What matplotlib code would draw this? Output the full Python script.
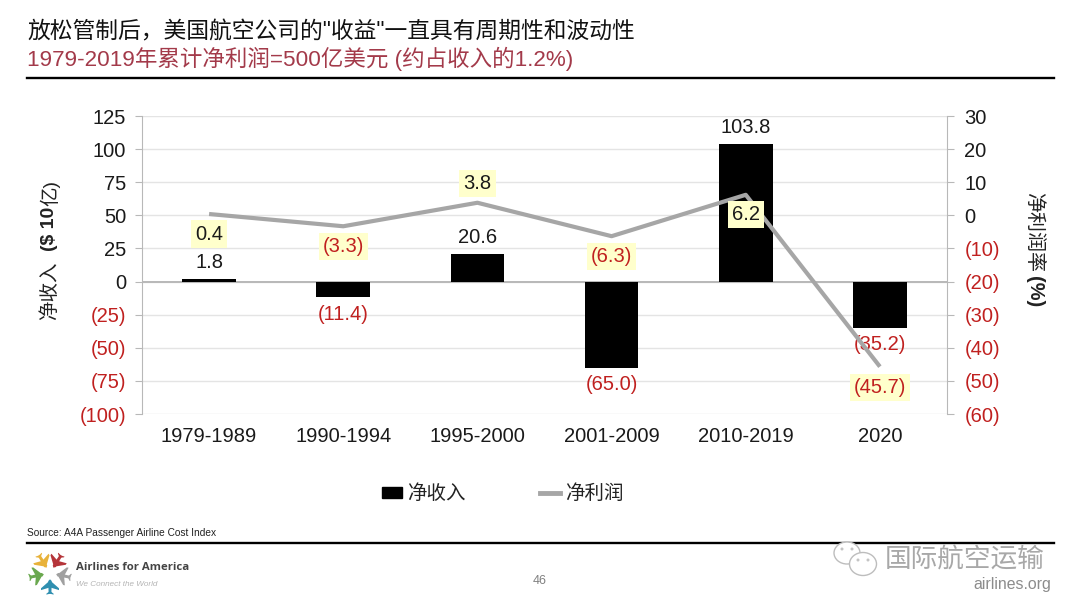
import numpy as np
import matplotlib.pyplot as plt
from matplotlib.lines import Line2D
from matplotlib.patches import Ellipse, Patch, Polygon

plt.rcParams['font.family'] = ['Liberation Sans', 'Noto Sans CJK SC', 'DejaVu Sans']

periods = ['1979-1989', '1990-1994', '1995-2000', '2001-2009', '2010-2019', '2020']
net_income = [1.8, -11.4, 20.6, -65.0, 103.8, -35.2]
net_margin = [0.4, -3.3, 3.8, -6.3, 6.2, -45.7]
left_ticks = [125, 100, 75, 50, 25, 0, -25, -50, -75, -100]
right_ticks = [30, 20, 10, 0, -10, -20, -30, -40, -50, -60]

# label offsets in points from the end of each bar / each line point
income_offsets = [12, -13, 12, -12, 12, -12]
margin_offsets = [-14.4, -14.4, 13.7, -14.4, -14.4, -15]

RED = '#c0201f'
GREY_AXIS = '#b8b8b8'
FS = 14.5


def money(v):
    # negatives are shown in brackets
    return f'({abs(v):.1f})' if v < 0 else f'{v:.1f}'


def axis_label(v):
    return f'({abs(v)})' if v < 0 else f'{v}'


def style_ticks(axis, ticks):
    axis.set_yticks(ticks)
    axis.set_yticklabels([axis_label(t) for t in ticks], fontsize=FS)
    for lab, t in zip(axis.get_yticklabels(), ticks):
        lab.set_color(RED if t < 0 else '#1a1a1a')


fig = plt.figure(figsize=(10.8, 6.08), dpi=100)
ax = fig.add_axes([142 / 1080, 1 - 414 / 608, 805 / 1080, 298 / 608])

x = np.arange(len(periods))
ax.bar(x, net_income, width=0.4, color='black', zorder=2)
ax.axhline(0, color=GREY_AXIS, lw=1.4, zorder=1)
ax.set_xlim(-0.5, 5.5)
ax.set_ylim(-100, 125)
ax.grid(axis='y', color='#e4e4e4', lw=1)
ax.set_axisbelow(True)
style_ticks(ax, left_ticks)
ax.set_xticks(x)
ax.set_xticklabels(periods, fontsize=FS, color='#1a1a1a')
ax.tick_params(axis='x', length=0, pad=9)
ax.tick_params(axis='y', length=5, color=GREY_AXIS, pad=6.5)
for side in ['top', 'right', 'bottom']:
    ax.spines[side].set_visible(False)
ax.spines['left'].set_color(GREY_AXIS)

for i, v in enumerate(net_income):
    ax.annotate(money(v), (x[i], v), xytext=(0, income_offsets[i]), textcoords='offset points',
                ha='center', va='center', fontsize=FS, color=RED if v < 0 else '#1a1a1a', zorder=3)

ax2 = ax.twinx()
ax2.plot(x, net_margin, color='#a6a6a6', lw=3, solid_capstyle='butt', zorder=2)
ax2.set_ylim(-60, 30)
style_ticks(ax2, right_ticks)
ax2.tick_params(axis='y', length=5, color=GREY_AXIS, pad=7.5)
for side in ['top', 'left', 'bottom']:
    ax2.spines[side].set_visible(False)
ax2.spines['right'].set_color(GREY_AXIS)

for i, v in enumerate(net_margin):
    ax2.annotate(money(v), (x[i], v), xytext=(0, margin_offsets[i]), textcoords='offset points',
                 ha='center', va='center', fontsize=FS, color=RED if v < 0 else '#1a1a1a', zorder=3,
                 bbox=dict(boxstyle='square,pad=0.2', fc='#ffffcc', ec='none'))

handles = [Patch(color='black', label='净收入'), Line2D([], [], color='#a6a6a6', lw=3.5, label='净利润')]
fig.legend(handles=handles, loc='center', bbox_to_anchor=(503 / 1080, 1 - 494 / 608), ncol=2, frameon=False,
           fontsize=14, labelcolor='#222222', handlelength=1.03, handleheight=0.5, handletextpad=0.26,
           columnspacing=3.85, borderpad=0)

# page furniture, drawn in pixel coordinates
page = fig.add_axes([0, 0, 1, 1], zorder=-1)
page.set_xlim(0, 1080)
page.set_ylim(608, 0)
page.axis('off')

page.text(27, 32, '放松管制后，美国航空公司的"收益"一直具有周期性和波动性', fontsize=16.4, va='center', color='#111111')
page.text(27, 59, '1979-2019年累计净利润=500亿美元 (约占收入的1.2%)', fontsize=16.2, va='center', color='#a33a4a')
page.plot([27, 1054], [78, 78], color='black', lw=1.7)
page.plot([27, 1054], [543, 543], color='black', lw=1.7)

# axis titles: latin parts are bold, the chinese is not
page.text(50, 291, '净收入', rotation=90, fontsize=14, ha='center', va='center', color='#222222')
page.text(50, 229, '($ 10', rotation=90, fontsize=14, ha='center', va='center', fontweight='bold', color='#222222')
page.text(50, 193, '亿)', rotation=90, fontsize=14, ha='center', va='center', color='#222222')
page.text(1034, 232, '净利润率', rotation=270, fontsize=14.4, ha='center', va='center', color='#222222')
page.text(1034, 292, '(%)', rotation=270, fontsize=14.4, ha='center', va='center', fontweight='bold', color='#222222')

page.text(27, 533, 'Source: A4A Passenger Airline Cost Index', fontsize=7.25, va='center', color='#222222')
page.text(540, 581, '46', fontsize=9, ha='center', va='center', color='#808080')

# logo: five little planes around a star
logo_colors = ['#e8b23a', '#b5353a', '#a0a0a0', '#2f8fb0', '#6aa84f']
logo_angles = [122, 58, -12, -90, 192]
c = np.array([50, 573])
for col, ang in zip(logo_colors, logo_angles):
    a = np.radians(ang)
    d = np.array([np.cos(a), -np.sin(a)]) * 0.9
    n = np.array([d[1], -d[0]])
    # fuselage
    page.add_patch(Polygon([c + d * 7, c + d * 9 + n * 2, c + d * 23 + n * 1.5, c + d * 23 - n * 1.5,
                            c + d * 9 - n * 2], color=col, lw=0))
    # wings, then tail
    page.add_patch(Polygon([c + d * 10 + n * 2, c + d * 17 + n * 10, c + d * 19 + n * 10, c + d * 16,
                            c + d * 19 - n * 10, c + d * 17 - n * 10, c + d * 10 - n * 2], color=col, lw=0))
    page.add_patch(Polygon([c + d * 20, c + d * 23 + n * 4, c + d * 24 + n * 4, c + d * 23,
                            c + d * 24 - n * 4, c + d * 23 - n * 4], color=col, lw=0))
page.text(76, 567, 'Airlines for America', fontsize=8.2, fontweight='bold', va='center', color='#444444', family='Open Sans')
page.text(76, 584, 'We Connect the World', fontsize=5.9, style='italic', va='center', color='#b5b5b5')

# watermark
page.add_patch(Ellipse((847, 553), 26, 22, fc='white', ec='#bdbdbd', lw=1, zorder=3))
page.add_patch(Ellipse((863, 564), 27, 23, fc='white', ec='#bdbdbd', lw=1, zorder=3))
page.add_patch(Ellipse((842, 549), 3, 3, fc='#c4c4c4', ec='none', zorder=3))
page.add_patch(Ellipse((852, 549), 3, 3, fc='#c4c4c4', ec='none', zorder=3))
page.add_patch(Ellipse((858, 560), 3, 3, fc='#c4c4c4', ec='none', zorder=3))
page.add_patch(Ellipse((868, 560), 3, 3, fc='#c4c4c4', ec='none', zorder=3))
page.text(885, 561, '国际航空运输', fontsize=19.2, va='center', color='#a8a8a8', zorder=3)
page.text(1051, 584, 'airlines.org', fontsize=11.4, ha='right', va='center', color='#8c8c8c', zorder=3)

fig.savefig('out.png', dpi=100)
